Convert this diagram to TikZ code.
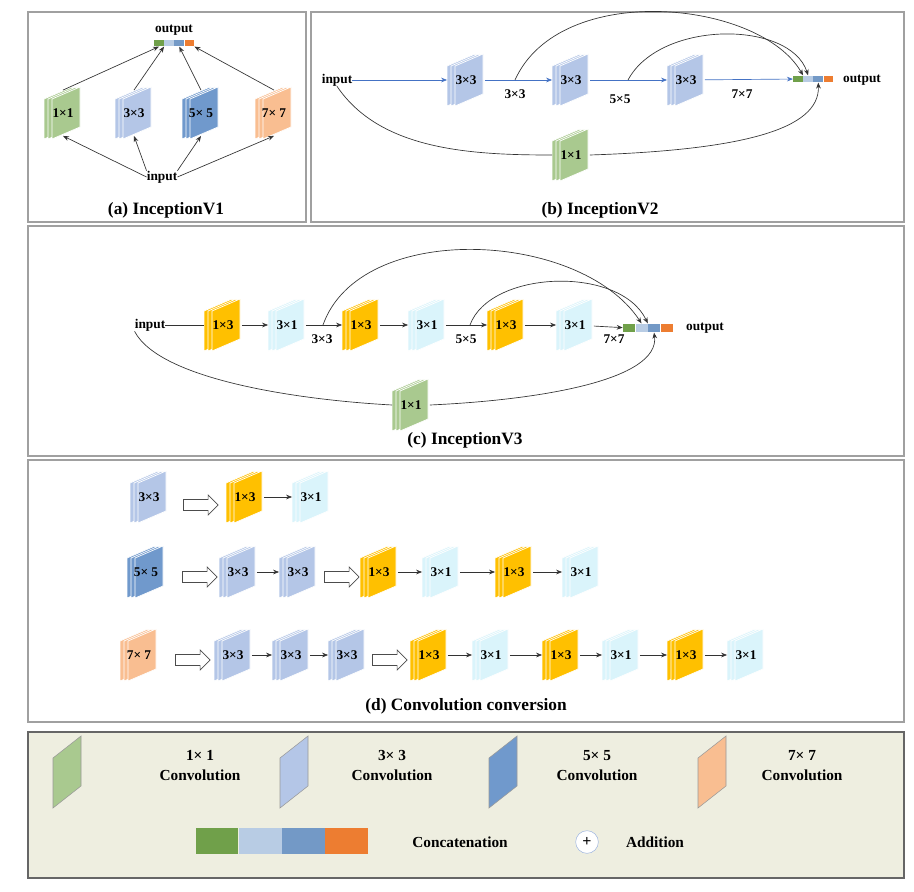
\documentclass[tikz,border=0pt]{standalone}
\usepackage{fontspec}
\setmainfont{Liberation Serif}
\usetikzlibrary{arrows.meta,shapes.arrows}
\definecolor{cA}{HTML}{A9C98F}\definecolor{cB}{HTML}{B4C6E7}\definecolor{cC}{HTML}{7099CC}
\definecolor{cD}{HTML}{F9BE91}\definecolor{cY}{HTML}{FFC000}\definecolor{cE}{HTML}{DAF4FB}
\definecolor{k1}{HTML}{70A04A}\definecolor{k2}{HTML}{B8CCE4}\definecolor{k3}{HTML}{7399C6}\definecolor{k4}{HTML}{ED7D31}
\definecolor{frame}{HTML}{A0A0A0}\definecolor{legbg}{HTML}{EEEEE0}\definecolor{blu}{HTML}{4472C4}
\tikzset{
 lbl/.style={font=\bfseries\fontsize{10}{11}\selectfont,inner sep=0pt},
 blk/.style={lbl,minimum width=28pt,minimum height=34pt},
 ttl/.style={font=\bfseries\fontsize{13}{15}\selectfont},
 arr/.style={-{Stealth[length=4.5pt,width=3.5pt]},line width=0.5pt,black!80},
 barr/.style={arr,blu},
 pane/.style={draw=frame,line width=2.2pt},
 hol/.style={single arrow,draw=black!70,fill=white,line width=0.5pt,minimum height=26pt,minimum width=15pt,single arrow head extend=3pt,inner sep=3.5pt},
 seg/.style={inner sep=0pt,minimum height=#1,draw=none},
 lgt/.style={lbl,font=\bfseries\fontsize{11.5}{15}\selectfont,align=center},
}
\newcommand\lyr[5]{%
 \foreach \d in {-8,-4,0}{\filldraw[fill=#4,draw=white,line width=0.5pt]
  ({#2+\d+4-14},{#3-20+6}) -- ({#2+\d+4+14},{#3-20-6}) -- ({#2+\d+4+14},{#3+20-6}) -- ({#2+\d+4-14},{#3+20+6}) -- cycle;}
 \node[blk] (#1) at ({#2+1},{#3}) {#5};}
\newcommand\catbar[5]{% name x y segwidth height
 \node[seg=#5,minimum width=#4,fill=k1] (#11) at ({#2},{#3}) {};
 \node[seg=#5,minimum width=#4,fill=k2,anchor=west] (#12) at (#11.east) {};
 \node[seg=#5,minimum width=#4,fill=k3,anchor=west] (#13) at (#12.east) {};
 \node[seg=#5,minimum width=#4,fill=k4,anchor=west] (#14) at (#13.east) {};}
\begin{document}
\begin{tikzpicture}[x=0.75pt,y=-0.75pt]
\useasboundingbox (0,0) rectangle (914,892);
\fill[white] (0,0) rectangle (914,892);
% frames
\draw[pane] (28,12) rectangle (306,222);
\draw[pane] (311,12) rectangle (904,222);
\draw[pane] (28,226) rectangle (904,456);
\draw[pane] (28,460) rectangle (904,722);
\filldraw[fill=legbg,draw=black!60,line width=0.8pt] (28,732) rectangle (904,878);
% ---------- (a)
\node[lbl] (ao) at (174,30) {output};
\catbar{ab}{159}{43}{7.2pt}{5pt}
\lyr{a1}{62}{113}{cA}{1×1}
\lyr{a2}{133}{113}{cB}{3×3}
\lyr{a3}{200}{113}{cC}{5× 5}
\lyr{a4}{273}{113}{cD}{7× 7}
\node[lbl] (ai) at (162,177) {input};
\draw[arr] (ai.west) -- (a1.south);
\draw[arr] (ai.north west) -- (a2.south);
\draw[arr] (ai.north east) -- (a3.south);
\draw[arr] (ai.east) -- (a4.south);
\draw[arr] (a1.north) -- (ab1.south);
\draw[arr] (a2.north) -- (ab1.south east);
\draw[arr] (a3.north) -- (ab3.south);
\draw[arr] (a4.north) -- (ab4.south east);
\node[ttl] (at) at (166,210) {(a) InceptionV1};
% ---------- (b)
\node[lbl] (bi) at (337,80) {input};
\lyr{b1}{465}{80}{cB}{3×3}
\lyr{b2}{570}{80}{cB}{3×3}
\lyr{b3}{685}{80}{cB}{3×3}
\catbar{bb}{798}{79}{7.2pt}{5pt}
\node[lbl] (bo) at (862,80) {output};
\node[lbl] (bl1) at (515,94) {3×3};
\node[lbl] (bl2) at (620,99) {5×5};
\node[lbl] (bl3) at (742,94) {7×7};
\lyr{b4}{570}{155}{cA}{1×1}
\draw[barr] (bi) -- (b1);
\draw[barr] (b1) -- (b2);
\draw[barr] (b2) -- (b3);
\draw[barr] (b3) -- (bb1);
\coordinate (bs1) at (515,80);
\coordinate (bs2) at (628,80);
\draw[arr] (bs1) .. controls (560,-20) and (760,0) .. (bb1.north east);
\draw[arr] (bs2) .. controls (660,20) and (790,20) .. (bb2.north);
\draw[line width=0.5pt,black!80] (bi.south) .. controls (380,150) and (470,155) .. (b4.west);
\draw[arr] (b4.east) .. controls (740,150) and (820,130) .. (bb3.south);
\node[ttl] (bt) at (600,210) {(b) InceptionV2};
% ---------- (c)
\node[lbl] (ci) at (150,325) {input};
\lyr{c1}{222}{325}{cY}{1×3}
\lyr{c2}{286}{325}{cE}{3×1}
\lyr{c3}{360}{325}{cY}{1×3}
\lyr{c4}{426}{325}{cE}{3×1}
\lyr{c5}{505}{325}{cY}{1×3}
\lyr{c6}{574}{325}{cE}{3×1}
\catbar{cb}{629}{328}{9pt}{6.5pt}
\node[lbl] (co) at (705,328) {output};
\node[lbl] (cl1) at (322,339) {3×3};
\node[lbl] (cl2) at (466,339) {5×5};
\node[lbl] (cl3) at (614,339) {7×7};
\lyr{c7}{410}{405}{cA}{1×1}
\draw[line width=0.5pt,black!80] (ci) -- (c1);
\draw[arr] (c1) -- (c2);
\draw[arr] (c2) -- (c3);
\draw[arr] (c3) -- (c4);
\draw[arr] (c4) -- (c5);
\draw[arr] (c5) -- (c6);
\draw[arr] (c6) -- (cb1);
\coordinate (cs1) at (323,325);
\coordinate (cs2) at (470,325);
\draw[arr] (cs1) .. controls (360,220) and (580,230) .. (cb2.north);
\draw[arr] (cs2) .. controls (490,270) and (620,265) .. (cb2.north east);
\draw[line width=0.5pt,black!80] (ci.south west) .. controls (160,380) and (300,400) .. (c7.west);
\draw[arr] (c7.east) .. controls (540,400) and (660,380) .. (cb3.south);
\node[ttl] (ct) at (465,440) {(c) InceptionV3};
% ---------- (d)
\lyr{d1}{148}{497}{cB}{3×3}
\node[hol] (h1) at (198,505) {};
\lyr{d2}{244}{497}{cY}{1×3}
\lyr{d3}{310}{497}{cE}{3×1}
\draw[arr] (d2) -- (d3);
\lyr{e1}{145}{572}{cC}{5× 5}
\node[hol] (h2) at (197,577) {};
\lyr{e2}{237}{572}{cB}{3×3}
\lyr{e3}{297}{572}{cB}{3×3}
\node[hol] (h3) at (339,577) {};
\lyr{e4}{378}{572}{cY}{1×3}
\lyr{e5}{440}{572}{cE}{3×1}
\lyr{e6}{513}{572}{cY}{1×3}
\lyr{e7}{580}{572}{cE}{3×1}
\draw[arr] (e2) -- (e3); \draw[arr] (e4) -- (e5); \draw[arr] (e5) -- (e6); \draw[arr] (e6) -- (e7);
\lyr{f1}{138}{655}{cD}{7× 7}
\node[hol] (h4) at (190,660) {};
\lyr{f2}{232}{655}{cB}{3×3}
\lyr{f3}{290}{655}{cB}{3×3}
\lyr{f4}{346}{655}{cB}{3×3}
\node[hol] (h5) at (387,660) {};
\lyr{f5}{428}{655}{cY}{1×3}
\lyr{f6}{490}{655}{cE}{3×1}
\lyr{f7}{560}{655}{cY}{1×3}
\lyr{f8}{620}{655}{cE}{3×1}
\lyr{f9}{685}{655}{cY}{1×3}
\lyr{f10}{745}{655}{cE}{3×1}
\foreach \a/\b in {f2/f3,f3/f4,f5/f6,f6/f7,f7/f8,f8/f9,f9/f10}{\draw[arr] (\a) -- (\b);}
\node[ttl] (dt) at (466,706) {(d) Convolution conversion};
% ---------- legend
\tikzset{lg/.style={draw=black!40,line width=0.4pt}}
\foreach \cx/\cc in {67/cA,294/cB,503/cC,712/cD}{
 \filldraw[lg,fill=\cc] ({\cx-14},{770-20+8}) -- ({\cx+14},{770-20-14}) -- ({\cx+14},{770+30-14}) -- ({\cx-14},{770+30+8}) -- cycle;}
\node[lgt] (l1) at (200,766) {1× 1\\Convolution};
\node[lgt] (l2) at (392,766) {3× 3\\Convolution};
\node[lgt] (l3) at (597,766) {5× 5\\Convolution};
\node[lgt] (l4) at (802,766) {7× 7\\Convolution};
\catbar{lb}{217}{841}{32pt}{20pt}
\node[lgt] (l5) at (460,842) {Concatenation};
\node[circle,draw=blu!50,fill=white,minimum size=17pt,inner sep=0pt,font=\bfseries\large] (l6) at (587,842) {+};
\node[lgt] (l7) at (655,842) {Addition};
\end{tikzpicture}
\end{document}
